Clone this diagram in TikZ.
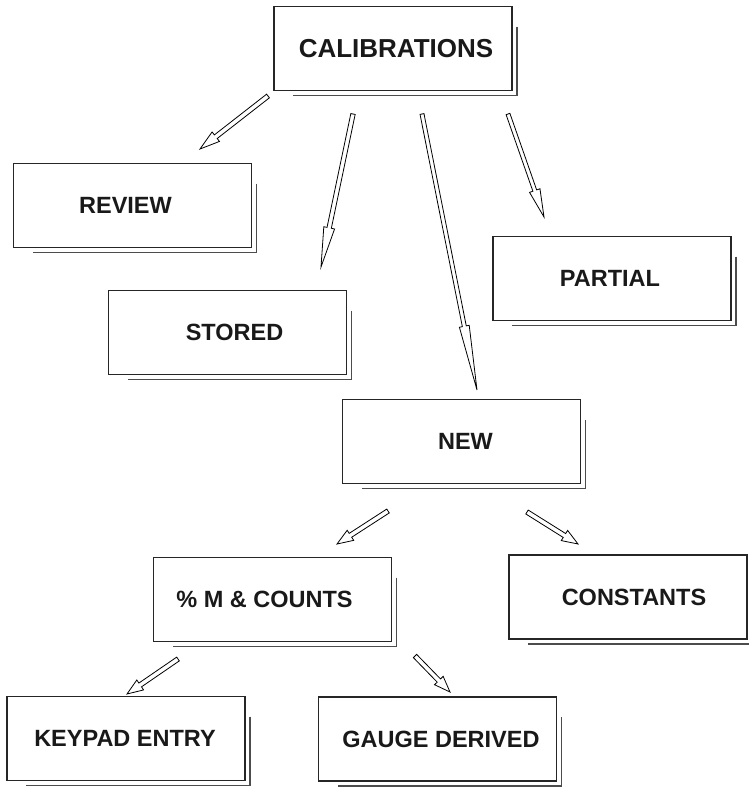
\documentclass[tikz,border=0pt]{standalone}
\usepackage{fontspec}
\setmainfont{Liberation Sans}
\usetikzlibrary{calc}
\tikzset{
  box/.style={draw=black!85, line width=1.1pt, rectangle, minimum width=238pt, minimum height=84pt,
    inner sep=0pt, outer sep=0pt, font=\bfseries\fontsize{23.5}{28}\selectfont, text=black!90},
  bigbox/.style={box, font=\bfseries\fontsize{26}{30}\selectfont},
  shadowline/.style={draw=black!70, line width=1.6pt},
  arrowline/.style={draw=black, line width=0.8pt, fill=white, line join=miter}
}
\newcommand\boxshadow[1]{%
  \draw[shadowline] ([shift={(5,20)}]#1.north east) -- ([shift={(5,5)}]#1.south east) -- ([shift={(19,5)}]#1.south west);}
% tail, tip, head length, head half width, shaft half width
\newcommand\hollowarrow[5]{%
  \path ($(#2)!#3!(#1)$) coordinate (hb);
  \draw[arrowline] ($(#1)!#5!90:(#2)$) -- ($(hb)!#5!90:(#2)$) -- ($(hb)!#4!90:(#2)$) -- (#2)
    -- ($(hb)!#4!-90:(#2)$) -- ($(hb)!#5!-90:(#2)$) -- ($(#1)!#5!-90:(#2)$) -- cycle;}
\begin{document}
\begin{tikzpicture}[x=1pt,y=-1pt]
\useasboundingbox (0,0) rectangle (748,787);
% boxes
\node[bigbox] (cal) at (393,48.5) {\hspace*{6pt}CALIBRATIONS};
\node[box] (review) at (132.5,205.5) {\hspace*{-14pt}REVIEW};
\node[box] (stored) at (227.5,332.5) {\hspace*{14pt}STORED};
\node[box] (partial) at (612,278.5) {\hspace*{-4pt}PARTIAL};
\node[box] (new) at (461.5,441.5) {\hspace*{8pt}NEW};
\node[box] (counts) at (272.5,599.5) {\hspace*{-16pt}\% M \& COUNTS};
\node[box] (constants) at (628,597) {\hspace*{12pt}CONSTANTS};
\node[box] (keypad) at (126,738.5) {\hspace*{-2pt}KEYPAD ENTRY};
\node[box] (gauge) at (437.5,739) {\raisebox{-2.5pt}{\hspace*{7pt}GAUGE DERIVED}};
\foreach \n in {cal,review,stored,partial,new,counts,constants,keypad,gauge} {\boxshadow{\n}}
% arrow end points
\coordinate (t1) at (268,96);  \coordinate (p1) at (200,149);
\coordinate (t2) at (353,114); \coordinate (p2) at (321,267);
\coordinate (t3) at (422,114); \coordinate (p3) at (477,390);
\coordinate (t4) at (508,114); \coordinate (p4) at (544,217);
\coordinate (t5) at (388,511); \coordinate (p5) at (337,544);
\coordinate (t6) at (527,512); \coordinate (p6) at (578,544);
\coordinate (t7) at (178,659); \coordinate (p7) at (127,694);
\coordinate (t8) at (415,656); \coordinate (p8) at (450,692);
\hollowarrow{t1}{p1}{20pt}{6pt}{2.3pt}
\hollowarrow{t2}{p2}{40pt}{5.5pt}{2.2pt}
\hollowarrow{t3}{p3}{65pt}{5pt}{2pt}
\hollowarrow{t4}{p4}{28pt}{5.5pt}{2pt}
\hollowarrow{t5}{p5}{16pt}{6pt}{2.3pt}
\hollowarrow{t6}{p6}{16pt}{6pt}{2.3pt}
\hollowarrow{t7}{p7}{16pt}{6pt}{2.3pt}
\hollowarrow{t8}{p8}{16pt}{6pt}{2.3pt}
\end{tikzpicture}
\end{document}
